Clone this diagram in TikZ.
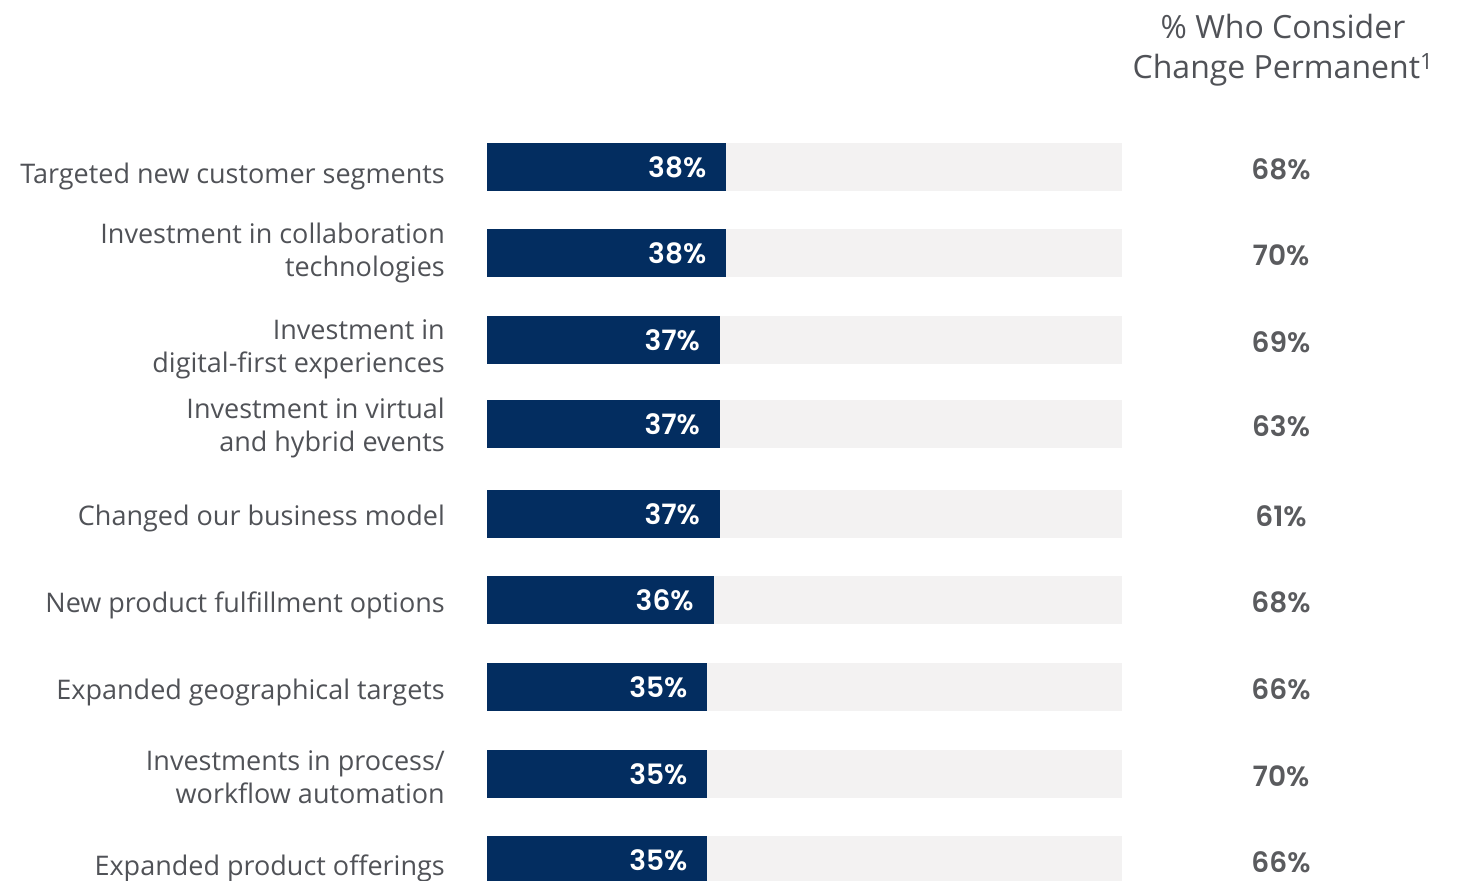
\documentclass[tikz,border=0pt]{standalone}
\usepackage{fontspec}
\setmainfont{Open Sans}
\newfontfamily\numfont{Poppins SemiBold}
\definecolor{navy}{HTML}{032D60}
\definecolor{track}{HTML}{F3F2F2}
\definecolor{txt}{HTML}{505257}
\definecolor{numgray}{HTML}{5A5B5E}
\begin{document}
\begin{tikzpicture}[x=1pt,y=-1pt,
  trackbar/.style={fill=track,inner sep=0,minimum height=48pt,minimum width=635pt,anchor=north west},
  valbar/.style={fill=navy,inner sep=0,minimum height=48pt,anchor=north west},
  inval/.style={text=white,inner sep=0,anchor=east,font=\numfont\fontsize{28}{30}\selectfont},
  permval/.style={text=numgray,inner sep=0,anchor=center,font=\numfont\fontsize{28}{30}\selectfont},
  rowlabel/.style={text=txt,inner sep=0,anchor=base east,align=right,font=\fontsize{27}{32.5}\selectfont},
  heading/.style={text=txt,inner sep=0,anchor=base,align=center,font=\fontsize{32}{40}\selectfont}]
\useasboundingbox (0,0) rectangle (1463,880);
\node[heading] (head) at (1283,79) {\% Who Consider\\Change Permanent\textsuperscript{1}};
\foreach \i/\t/\p/\r/\b/\lab in {
1/143/38/68/183/{Targeted new customer segments},
2/229/38/70/276/{Investment in collaboration\\technologies},
3/316/37/69/372/{Investment in\\digital-first experiences},
4/400/37/63/451/{Investment in virtual\\and hybrid events},
5/490/37/61/525/{Changed our business model},
6/576/36/68/612/{New product fulfillment options},
7/663/35/66/699/{Expanded geographical targets},
8/750/35/70/803/{Investments in process/\\workflow automation},
9/836/35/66/875/{Expanded product offerings}}{
  \node[trackbar] (bg\i) at (487,\t) {};
  \node[valbar,minimum width=6.29pt*\p] (bar\i) at (487,\t) {};
  \node[inval] (v\i) at ([xshift=-20pt]bar\i.east) {\p\%};
  \node[permval] (p\i) at (1281,\t+26) {\r\%};
  \node[rowlabel] (l\i) at (445,\b) {\lab};
}
\end{tikzpicture}
\end{document}
